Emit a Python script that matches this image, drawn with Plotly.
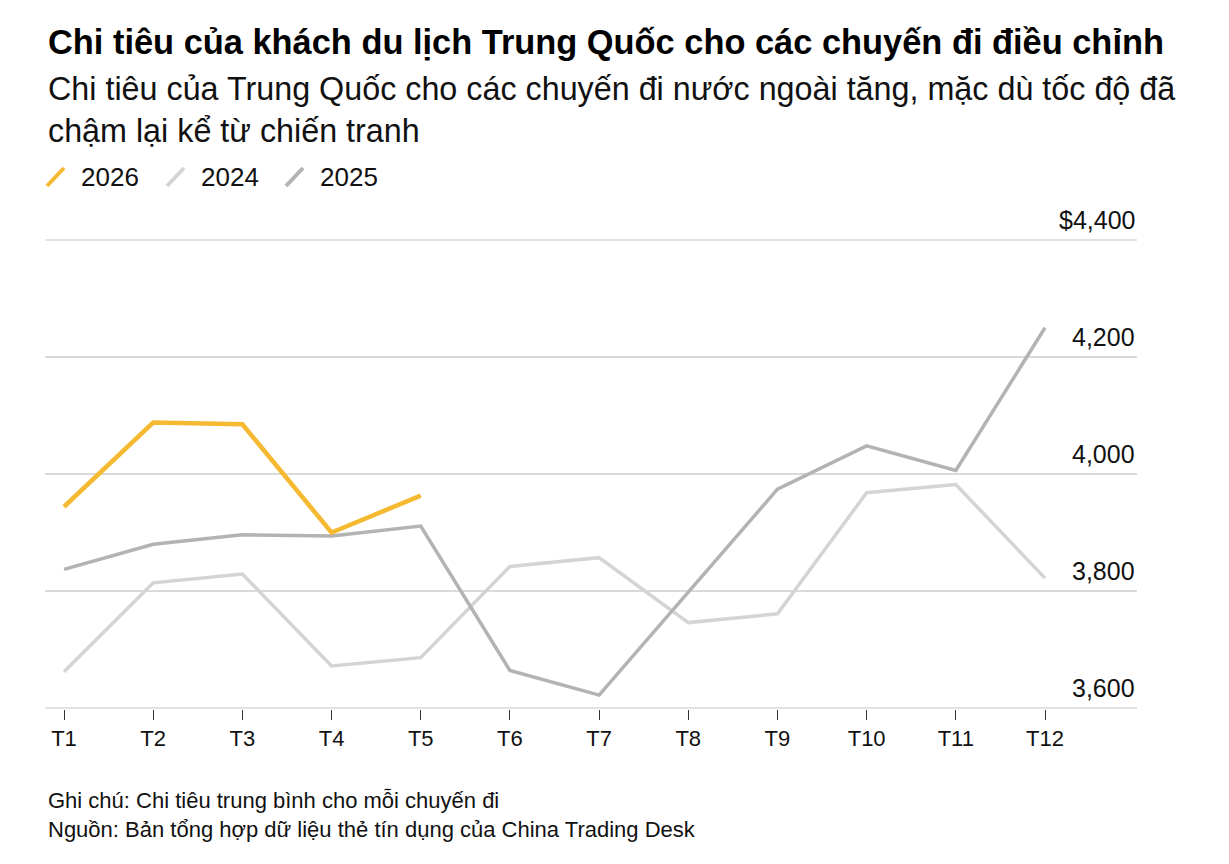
import plotly.graph_objects as go

months = ["T1", "T2", "T3", "T4", "T5", "T6", "T7", "T8", "T9", "T10", "T11", "T12"]
x_pos = list(range(1, 13))

y2026 = [3944, 4088, 4085, 3900, 3963]
y2024 = [3662, 3814, 3829, 3672, 3686, 3842, 3857, 3746, 3761, 3968, 3982, 3822]
y2025 = [3837, 3880, 3896, 3894, 3911, 3664, 3622, 3799, 3974, 4048, 4006, 4250]

y_ticks = [3600, 3800, 4000, 4200, 4400]
y_tick_text = ["3,600", "3,800", "4,000", "4,200", "$4,400"]

c2026 = "#F6B932"
c2024 = "#D4D4D4"
c2025 = "#B3B3B3"
GRID = "#DADADA"

FONT = "Liberation Sans, Arial, sans-serif"

W, H = 1229, 864
L, R, T, B = 45, 92, 239, 155


def px(xp):
    return (xp - L) / (W - L - R)


def py(yp):
    return (H - B - yp) / (H - T - B)


fig = go.Figure()
fig.add_trace(go.Scatter(x=x_pos, y=y2024, mode="lines", name="2024",
                         line=dict(color=c2024, width=3.5), cliponaxis=False))
fig.add_trace(go.Scatter(x=x_pos, y=y2025, mode="lines", name="2025",
                         line=dict(color=c2025, width=3.5), cliponaxis=False))
fig.add_trace(go.Scatter(x=x_pos[:len(y2026)], y=y2026, mode="lines", name="2026",
                         line=dict(color=c2026, width=4.5), cliponaxis=False))

annotations = []
shapes = []
for v, t in zip(y_ticks, y_tick_text):
    annotations.append(dict(x=1, xref="paper", y=v, yref="y", text=t, showarrow=False,
                            xanchor="right", yanchor="bottom", yshift=4,
                            font=dict(family=FONT, size=25, color="#111")))
# edge gridlines (plotly omits grid lines lying on the plot-area border)
for v in (y_ticks[0], y_ticks[-1]):
    shapes.append(dict(type="line", xref="paper", yref="y", x0=0, x1=1, y0=v, y1=v,
                       layer="below", line=dict(color=GRID, width=1.5)))

annotations.append(dict(x=px(46), y=py(42), xref="paper", yref="paper", xanchor="left", yanchor="middle",
                        text="<b>Chi tiêu của khách du lịch Trung Quốc cho các chuyến đi điều chỉnh</b>",
                        showarrow=False, font=dict(family=FONT, size=34.4, color="#000")))
annotations.append(dict(x=px(46), y=py(110), xref="paper", yref="paper", xanchor="left", yanchor="middle",
                        align="left",
                        text="Chi tiêu của Trung Quốc cho các chuyến đi nước ngoài tăng, mặc dù tốc độ đã<br>chậm lại kể từ chiến tranh",
                        showarrow=False, font=dict(family=FONT, size=32.3, color="#111")))

legend_items = [("2026", c2026, 46), ("2024", c2024, 166), ("2025", c2025, 285)]
for name, col, x0 in legend_items:
    shapes.append(dict(type="line", xref="paper", yref="paper",
                       x0=px(x0 + 1), y0=py(186), x1=px(x0 + 18), y1=py(168),
                       line=dict(color=col, width=4)))
    annotations.append(dict(x=px(x0 + 33), y=py(177), xref="paper", yref="paper", xanchor="left",
                            yanchor="middle", text=name, showarrow=False,
                            font=dict(family=FONT, size=26, color="#111")))

annotations.append(dict(x=px(46), y=py(815), xref="paper", yref="paper", xanchor="left", yanchor="middle",
                        align="left",
                        text="Ghi chú: Chi tiêu trung bình cho mỗi chuyến đi<br>Nguồn: Bản tổng hợp dữ liệu thẻ tín dụng của China Trading Desk",
                        showarrow=False, font=dict(family=FONT, size=22, color="#111")))

fig.update_layout(
    width=W, height=H,
    margin=dict(l=L, r=R, t=T, b=B, pad=0),
    paper_bgcolor="white", plot_bgcolor="white",
    showlegend=False,
    annotations=annotations,
    shapes=shapes,
    xaxis=dict(range=[1 - 19 / 89.18, 12 + 92 / 89.18], tickvals=x_pos, ticktext=months,
               showgrid=False, zeroline=False, showline=False,
               ticks="outside", ticklen=10, tickwidth=1, tickcolor="#333",
               tickfont=dict(family=FONT, size=22, color="#111")),
    yaxis=dict(range=[3598.3, 4401.7], tickvals=y_ticks, showticklabels=False,
               showgrid=True, gridcolor=GRID, gridwidth=1.5,
               zeroline=False, showline=False, ticks=""),
)

fig.write_html("out.html")
